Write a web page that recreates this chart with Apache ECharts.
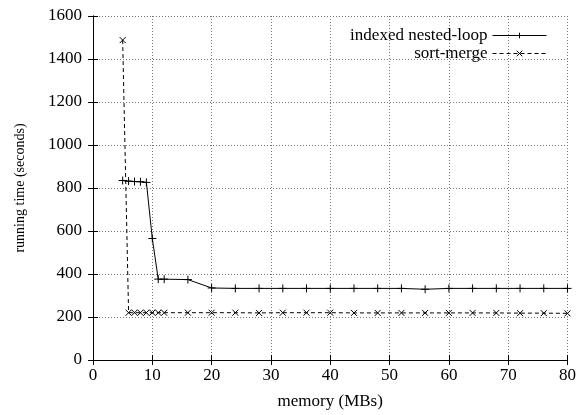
<!DOCTYPE html>
<html><head><meta charset="utf-8">
<script src="https://cdn.jsdelivr.net/npm/echarts@6/dist/echarts.min.js"></script>
<style>html,body{margin:0;padding:0;background:#fff}#c{width:579px;height:415px}</style>
</head><body><div id="c"></div>
<script>
const nlX = [5,6,7,8,9,10,11,12,16,20,24,28,32,36,40,44,48,52,56,60,64,68,72,76,80];
const nlY = [835,832,830,829,826,565,376,376,374,335,333,333,333,333,333,333,333,333,329,333,333,333,333,333,333];
const smX = [5,6,7,8,9,10,11,12,16,20,24,28,32,36,40,44,48,52,56,60,64,68,72,76,80];
const smY = [1488,220,220,220,220,220,220,220,220,220,220,219,220,220,220,219,219,219,219,219,219,219,218,218,217];
const xTicks = [0,10,20,30,40,50,60,70,80];
const yTicks = [0,200,400,600,800,1000,1200,1400,1600];

const F = 'Liberation Serif';
const FS = 17;
const chart = echarts.init(document.getElementById('c'), null, {renderer:'canvas'});
const plusPath = 'path://M0,5L10,5M5,0L5,10';
const crossPath = 'path://M0,0L10,10M10,0L0,10';
const zip = (a,b) => a.map((v,i)=>[v,b[i]]);
chart.setOption({
  animation:false,
  textStyle:{fontFamily:F},
  grid:{left:93,right:11,top:16,bottom:55,show:false},
  legend:{
    right:27, top:22, orient:'vertical', align:'right', itemGap:1,
    itemWidth:54, itemHeight:7,
    lineStyle:{width:1},
    itemStyle:{borderWidth:1},
    textStyle:{fontFamily:F,fontSize:FS,color:'#000'},
    data:['indexed nested-loop','sort-merge']
  },
  xAxis:[{
    type:'value', min:0, max:80, interval:10,
    name:'memory (MBs)', nameLocation:'middle', nameGap:33,
    nameTextStyle:{fontFamily:F,fontSize:FS,color:'#000'},
    axisLine:{show:true,lineStyle:{color:'#000',width:1}},
    axisTick:{show:true,inside:true,length:5,lineStyle:{color:'#000'}},
    axisLabel:{fontFamily:F,fontSize:FS,color:'#000',margin:7,
      formatter:v=>String(xTicks[xTicks.indexOf(v)])},
    splitLine:{show:true,lineStyle:{color:'#777',type:[1,2],width:1}}
  },{
    type:'value', min:0, max:80, interval:10, position:'top',
    axisLine:{show:true,lineStyle:{color:'#000',width:1}},
    axisTick:{show:true,inside:true,length:5,lineStyle:{color:'#000'}},
    axisLabel:{show:false}, splitLine:{show:false}
  }],
  yAxis:[{
    type:'value', min:0, max:1600, interval:200,
    name:'running time (seconds)', nameLocation:'middle', nameGap:66,
    nameTextStyle:{fontFamily:F,fontSize:14,color:'#000'},
    axisLine:{show:true,lineStyle:{color:'#000',width:1}},
    axisTick:{show:true,inside:true,length:5,lineStyle:{color:'#000'}},
    axisLabel:{fontFamily:F,fontSize:FS,color:'#000',margin:11,
      formatter:v=>String(yTicks[yTicks.indexOf(v)])},
    splitLine:{show:true,lineStyle:{color:'#777',type:[1,2],width:1}}
  },{
    type:'value', min:0, max:1600, interval:200, position:'right',
    axisLine:{show:true,lineStyle:{color:'#000',width:1}},
    axisTick:{show:true,inside:true,length:5,lineStyle:{color:'#000'}},
    axisLabel:{show:false}, splitLine:{show:false}
  }],
  series:[{
    name:'indexed nested-loop', type:'line', data:zip(nlX,nlY),
    symbol:plusPath, symbolSize:8, showAllSymbol:true,
    lineStyle:{color:'#000',width:1},
    itemStyle:{color:'none',borderColor:'#000',borderWidth:1}
  },{
    name:'sort-merge', type:'line', data:zip(smX,smY),
    symbol:crossPath, symbolSize:6, showAllSymbol:true,
    lineStyle:{color:'#000',width:1,type:[4,3]},
    itemStyle:{color:'none',borderColor:'#000',borderWidth:1}
  }]
});
</script></body></html>
